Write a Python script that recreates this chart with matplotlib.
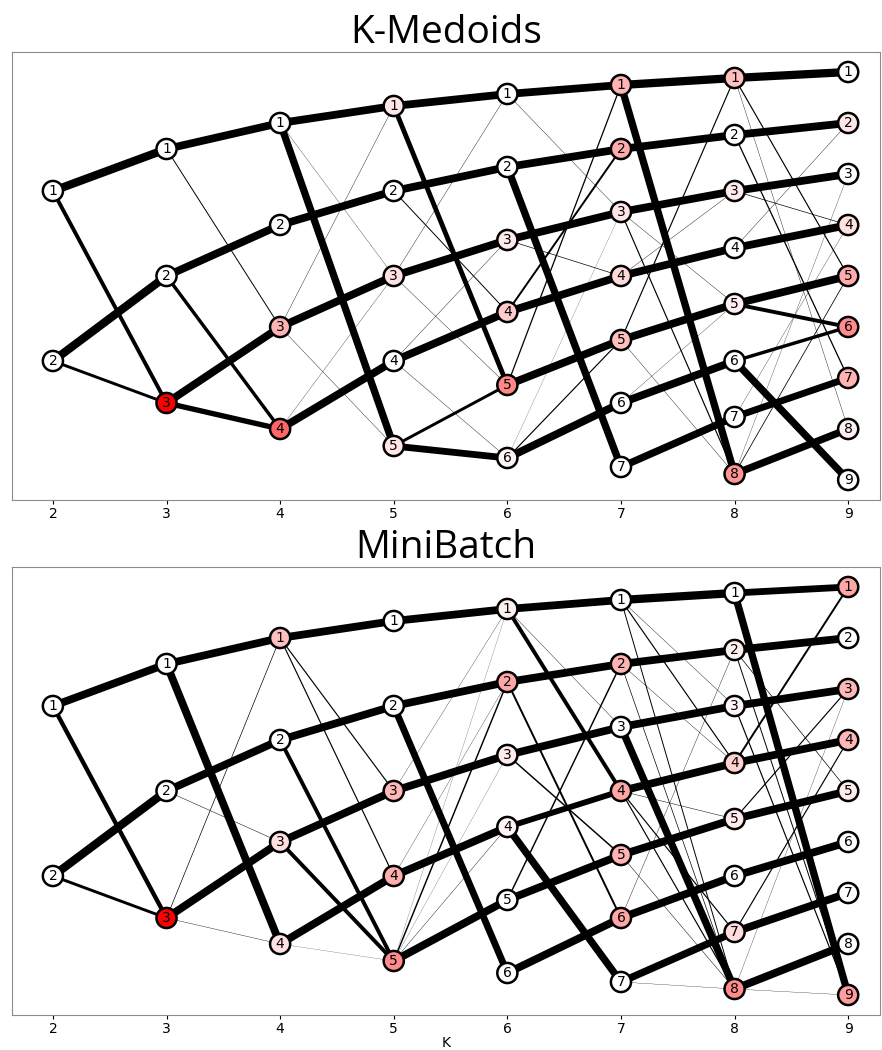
import matplotlib
matplotlib.use("Agg")
import matplotlib.pyplot as plt
from matplotlib.colors import LinearSegmentedColormap

ks = [2, 3, 4, 5, 6, 7, 8, 9]

# vertical position of every cluster, same layout for both methods
node_y = {
    2: [0.85, -0.85],
    3: [1.27, 0.0, -1.27],
    4: [1.53, 0.51, -0.51, -1.53],
    5: [1.70, 0.85, 0.0, -0.85, -1.70],
    6: [1.82, 1.09, 0.36, -0.36, -1.09, -1.82],
    7: [1.91, 1.27, 0.64, 0.0, -0.64, -1.27, -1.91],
    8: [1.98, 1.41, 0.85, 0.28, -0.28, -0.85, -1.41, -1.98],
    9: [2.04, 1.53, 1.02, 0.51, 0.0, -0.51, -1.02, -1.53, -2.04],
}

# node shading (0 = white, 1 = red)
kmedoids_share = {
    2: [0, 0],
    3: [0, 0, 1.0],
    4: [0, 0, 0.3, 0.6],
    5: [0.1, 0, 0.12, 0, 0.1],
    6: [0, 0, 0.08, 0.2, 0.47, 0.04],
    7: [0.3, 0.33, 0.1, 0.15, 0.25, 0, 0],
    8: [0.25, 0, 0.08, 0, 0.06, 0, 0, 0.42],
    9: [0, 0.1, 0, 0.12, 0.33, 0.45, 0.3, 0.06, 0],
}
minibatch_share = {
    2: [0, 0],
    3: [0, 0, 1.0],
    4: [0.25, 0, 0.12, 0.12],
    5: [0, 0, 0.28, 0.32, 0.45],
    6: [0.06, 0.35, 0.08, 0.05, 0, 0],
    7: [0, 0.3, 0, 0.35, 0.3, 0.35, 0],
    8: [0, 0.06, 0.04, 0.18, 0.08, 0, 0.14, 0.45],
    9: [0.35, 0, 0.28, 0.28, 0.08, 0, 0, 0, 0.38],
}

# (k, cluster at k, cluster at k+1, share of points moving)
kmedoids_links = [
    (2, 1, 1, 0.85), (2, 1, 3, 0.4), (2, 2, 2, 0.85), (2, 2, 3, 0.3),
    (3, 1, 1, 0.8), (3, 1, 3, 0.1), (3, 2, 2, 0.8), (3, 2, 4, 0.35),
    (3, 3, 3, 0.8), (3, 3, 4, 0.55),
    (4, 1, 1, 0.8), (4, 1, 5, 0.75), (4, 1, 3, 0.03), (4, 2, 2, 0.8),
    (4, 3, 3, 0.8), (4, 3, 1, 0.04), (4, 3, 5, 0.04), (4, 4, 4, 0.8),
    (4, 4, 3, 0.03),
    (5, 1, 1, 0.8), (5, 1, 5, 0.5), (5, 2, 2, 0.8), (5, 2, 4, 0.1),
    (5, 3, 3, 0.8), (5, 3, 1, 0.04), (5, 3, 5, 0.04), (5, 4, 4, 0.8),
    (5, 4, 6, 0.04), (5, 4, 3, 0.04), (5, 5, 6, 0.7), (5, 5, 5, 0.3),
    (6, 1, 1, 0.8), (6, 1, 3, 0.04), (6, 2, 2, 0.8), (6, 2, 7, 0.75),
    (6, 3, 3, 0.8), (6, 3, 4, 0.07), (6, 4, 4, 0.8), (6, 4, 2, 0.2),
    (6, 5, 5, 0.8), (6, 5, 1, 0.13), (6, 6, 6, 0.8), (6, 6, 5, 0.12),
    (6, 6, 3, 0.02),
    (7, 1, 1, 0.85), (7, 1, 8, 0.75), (7, 2, 2, 0.8), (7, 3, 3, 0.8),
    (7, 3, 8, 0.12), (7, 3, 5, 0.04), (7, 4, 4, 0.8), (7, 4, 3, 0.04),
    (7, 5, 5, 0.8), (7, 5, 1, 0.12), (7, 5, 8, 0.04), (7, 6, 6, 0.8),
    (7, 6, 5, 0.03), (7, 7, 7, 0.75),
    (8, 1, 1, 0.85), (8, 1, 5, 0.12), (8, 1, 8, 0.04), (8, 2, 2, 0.8),
    (8, 2, 7, 0.13), (8, 3, 3, 0.8), (8, 3, 4, 0.07), (8, 4, 4, 0.8),
    (8, 4, 2, 0.04), (8, 5, 5, 0.8), (8, 5, 6, 0.4), (8, 6, 6, 0.35),
    (8, 6, 9, 0.75), (8, 7, 7, 0.7), (8, 7, 4, 0.03), (8, 8, 8, 0.75),
    (8, 8, 5, 0.08), (8, 8, 3, 0.03),
]
minibatch_links = [
    (2, 1, 1, 0.8), (2, 1, 3, 0.45), (2, 2, 2, 0.85), (2, 2, 3, 0.3),
    (3, 1, 1, 0.8), (3, 1, 4, 0.8), (3, 2, 2, 0.8), (3, 2, 3, 0.05),
    (3, 3, 3, 0.8), (3, 3, 1, 0.07), (3, 3, 4, 0.04),
    (4, 1, 1, 0.8), (4, 1, 3, 0.12), (4, 1, 4, 0.12), (4, 2, 2, 0.8),
    (4, 2, 5, 0.4), (4, 3, 3, 0.8), (4, 3, 5, 0.4), (4, 4, 4, 0.8),
    (4, 4, 5, 0.02),
    (5, 1, 1, 0.8), (5, 2, 2, 0.8), (5, 2, 6, 0.7), (5, 3, 3, 0.8),
    (5, 3, 1, 0.03), (5, 4, 4, 0.8), (5, 4, 2, 0.03), (5, 5, 5, 0.8),
    (5, 5, 2, 0.15), (5, 5, 4, 0.04), (5, 5, 3, 0.02), (5, 5, 1, 0.02),
    (6, 1, 1, 0.8), (6, 1, 4, 0.4), (6, 1, 3, 0.04), (6, 2, 2, 0.8),
    (6, 2, 6, 0.2), (6, 3, 3, 0.8), (6, 3, 5, 0.15), (6, 4, 4, 0.6),
    (6, 4, 7, 0.75), (6, 5, 5, 0.8), (6, 5, 2, 0.15), (6, 6, 6, 0.8),
    (7, 1, 1, 0.85), (7, 1, 4, 0.12), (7, 1, 8, 0.1), (7, 1, 3, 0.04),
    (7, 2, 2, 0.8), (7, 2, 4, 0.04), (7, 2, 8, 0.07), (7, 3, 3, 0.8),
    (7, 3, 8, 0.75), (7, 4, 4, 0.8), (7, 4, 7, 0.12), (7, 4, 8, 0.12),
    (7, 4, 5, 0.05), (7, 5, 5, 0.8), (7, 5, 8, 0.05), (7, 6, 6, 0.8),
    (7, 6, 2, 0.04), (7, 7, 7, 0.75), (7, 7, 8, 0.03),
    (8, 1, 1, 0.7), (8, 1, 9, 0.75), (8, 2, 2, 0.8), (8, 2, 5, 0.07),
    (8, 2, 9, 0.1), (8, 3, 3, 0.8), (8, 3, 9, 0.12), (8, 4, 4, 0.8),
    (8, 4, 1, 0.2), (8, 5, 5, 0.8), (8, 5, 3, 0.12), (8, 6, 6, 0.8),
    (8, 7, 7, 0.8), (8, 7, 4, 0.12), (8, 8, 8, 0.8), (8, 8, 3, 0.03),
    (8, 8, 9, 0.03),
]

white_red = LinearSegmentedColormap.from_list("white_red", ["white", "red"])


def draw_graph(ax, title, share, links):
    for k, a, b, w in links:
        ax.plot([k, k + 1], [node_y[k][a - 1], node_y[k + 1][b - 1]],
                color="black", lw=w * 7, solid_capstyle="butt", zorder=1)
    for k in ks:
        ax.scatter([k] * k, node_y[k], s=210, c=share[k], cmap=white_red,
                   vmin=0, vmax=1, edgecolors="black", linewidths=1.8, zorder=2)
        for i, y in enumerate(node_y[k]):
            ax.text(k, y, str(i + 1), ha="center", va="center",
                    fontsize=10, zorder=3)
    ax.set_title(title, fontsize=28, family=["Open Sans", "DejaVu Sans"], pad=4)
    ax.set_xlim(1.64, 9.28)
    ax.set_ylim(-2.24, 2.24)
    ax.set_xticks(ks)
    ax.set_yticks([])
    ax.tick_params(axis="x", length=3, pad=2)
    for s in ax.spines.values():
        s.set_color("0.55")


fig = plt.figure(figsize=(8.82, 10.5), dpi=100)
ax1 = fig.add_axes([12 / 882, 1 - 500 / 1050, 868 / 882, 448 / 1050])
ax2 = fig.add_axes([12 / 882, 1 - 1015 / 1050, 868 / 882, 448 / 1050])

draw_graph(ax1, "K-Medoids", kmedoids_share, kmedoids_links)
draw_graph(ax2, "MiniBatch", minibatch_share, minibatch_links)
ax2.set_xlabel("K", labelpad=0)

fig.savefig("out.png", dpi=100)
